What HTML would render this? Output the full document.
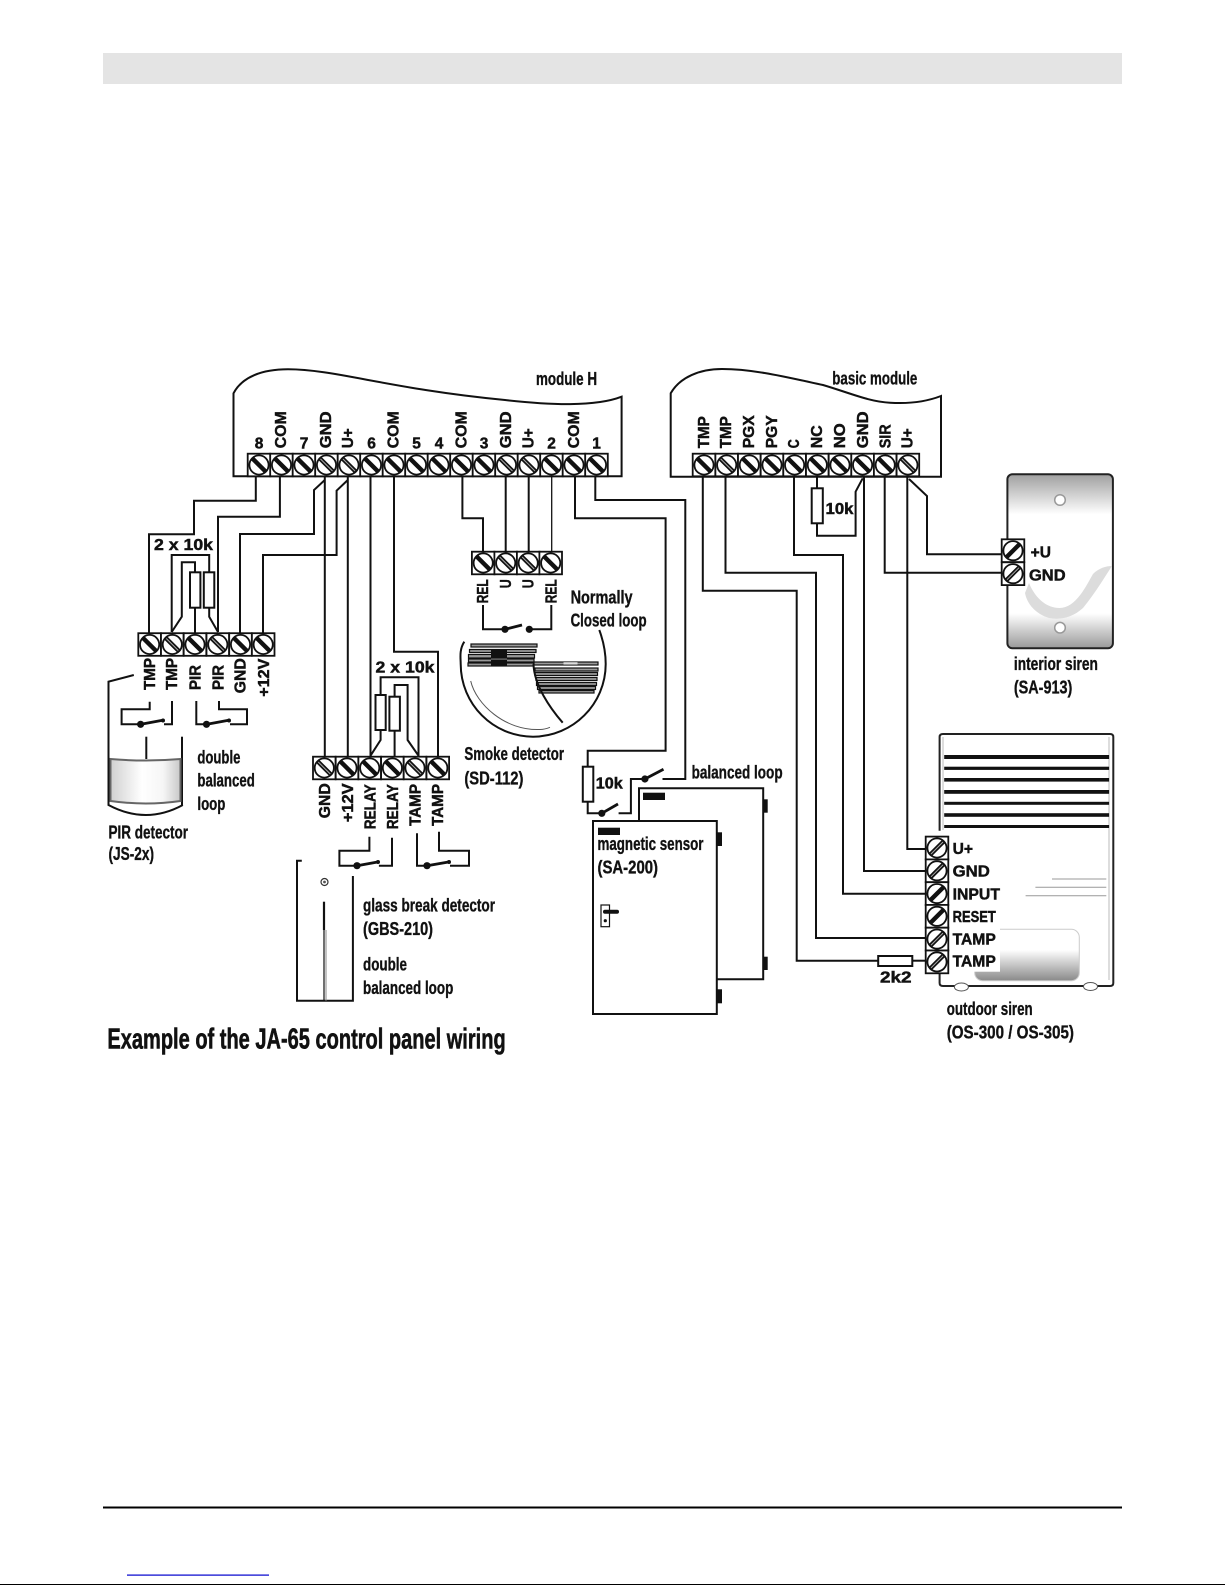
<!DOCTYPE html>
<html><head><meta charset="utf-8"><title>JA-65 wiring</title>
<style>
html,body{margin:0;padding:0;background:#fff}
svg{display:block}
text{fill:#111;font-weight:bold;stroke:#111;stroke-width:.35}
.n{font-family:"Liberation Sans Narrow","Liberation Sans",sans-serif;font-size:18px}
.w{font-family:"Liberation Sans",sans-serif;font-size:15.5px;stroke-width:.45}
.t{font-family:"Liberation Sans Narrow","Liberation Sans",sans-serif;font-size:29px;stroke-width:.6}
.l{fill:none;stroke:#111;stroke-width:2}
.h{fill:none;stroke:#111;stroke-width:1.3}
</style></head><body>
<svg xmlns="http://www.w3.org/2000/svg" width="1225" height="1585" viewBox="0 0 1225 1585">
<defs>
<linearGradient id="gs" x1="0" y1="0" x2="0" y2="1"><stop offset="0" stop-color="#a0a0a0"/><stop offset=".23" stop-color="#fff"/><stop offset=".8" stop-color="#fff"/><stop offset="1" stop-color="#999"/></linearGradient>
<linearGradient id="gw" x1="0" y1="0" x2="1" y2="0"><stop offset="0" stop-color="#d0d0d0"/><stop offset=".45" stop-color="#fff"/><stop offset=".75" stop-color="#f6f6f6"/><stop offset="1" stop-color="#c8c8c8"/></linearGradient>
<linearGradient id="gb" x1="0" y1="0" x2="0" y2="1"><stop offset="0" stop-color="#fff"/><stop offset=".4" stop-color="#fff"/><stop offset="1" stop-color="#8a8a8a"/></linearGradient>
<g id="s"><rect x="-11.3" y="-11.3" width="22.6" height="22.6" fill="#fff" stroke="#111" stroke-width="1.8"/><circle r="9.6" fill="#fff" stroke="#111" stroke-width="1.8"/><line x1="-6.6" y1="-6.6" x2="6.6" y2="6.6" stroke="#111" stroke-width="4.4"/></g>
<g id="d"><use href="#s"/><line x1="-6" y1="-6" x2="6" y2="6" stroke="#aaa" stroke-width="1"/></g>
<g id="f"><rect x="-11.3" y="-11.4" width="22.6" height="22.8" fill="#fff" stroke="#111" stroke-width="1.8"/><circle r="9.6" fill="#fff" stroke="#111" stroke-width="1.8"/><line x1="-6.6" y1="6.6" x2="6.6" y2="-6.6" stroke="#111" stroke-width="4.4"/></g>
<g id="g"><use href="#f"/><line x1="-6" y1="6" x2="6" y2="-6" stroke="#aaa" stroke-width="1"/></g>
</defs>

<rect width="1225" height="1585" fill="#fff"/>
<rect x="103" y="53" width="1019" height="31" fill="#e4e4e4"/>
<rect x="103" y="1506.5" width="1019" height="2" fill="#000"/>
<rect x="127" y="1574.5" width="142" height="1.2" fill="#0000cc"/>
<rect x="0" y="1584" width="1225" height="1" fill="#000"/>

<!-- modules -->
<path class="l" d="M233.5,476.3 V393.3 C242,377 262,369.3 288,369.3 C335,369.3 390,389 505,400 C550,405 595,407 621.6,396.7 V476.3 Z"/>
<path class="l" d="M670.7,476.7 V393.3 C680,377 700,369 722,369 C755,369 790,378 823,385 C850,393 870,402 890,402.7 C910,404 928,401 941,396 V476.7 Z"/>

<!-- wires H -->
<path class="l" d="M255.8,476V500.7H194V534.3H149V634"/>
<path class="l" d="M279.9,476V516.7H218V632"/>
<path class="l" d="M324.8,480L314,490V534H240V634"/>
<path class="l" d="M347.8,480L336.6,490.7V555H263V634"/>
<path class="l" d="M324.8,476V757"/>
<path class="l" d="M347.8,476V757"/>
<path class="l" d="M370.5,476V757"/>
<path class="l" d="M394,476V651.7H438V757"/>
<path class="l" d="M462.4,476V518.3H483V552"/>
<path class="l" d="M505.7,476V552"/>
<path class="l" d="M528.7,476V552"/>
<path class="h" d="M551.7,476V552"/>
<path class="l" d="M575,476V518.3H665.6V750.7H587.7V766.7"/>
<path class="l" d="M595.3,476V500H685.3V779H662.5"/>
<path class="l" d="M587.7,801.7V813.3H601"/>
<path class="l" d="M618.6,813.3H630.9V779H644"/>

<!-- wires basic -->
<path class="l" d="M702.8,476V590.7H796.7V960.7H878.2"/>
<path class="l" d="M912.3,960.7H926"/>
<path class="l" d="M725.5,476V572.7H816V938H926"/>
<path class="l" d="M794,476V555H843V893.7H926"/>
<path class="l" d="M864,476V871H926"/>
<path class="l" d="M817,476V488.3"/>
<path class="l" d="M817,523.3V535.7H855.6V491.7L862.7,478.3"/>
<path class="l" d="M884.7,476V572.7H1002"/>
<path class="l" d="M907.3,476V849H926"/>
<path class="l" d="M909,479L927,496V554.3H1002"/>

<!-- resistors -->
<rect class="l" x="811.7" y="488.3" width="11.1" height="35" style="fill:#fff"/>
<rect class="l" x="582.8" y="766.7" width="10.5" height="35" style="fill:#fff"/>
<rect class="l" x="878.2" y="956" width="34.1" height="10" style="fill:#fff"/>

<!-- PIR terminal loop -->
<path class="l" d="M171.7,632V555H209.2V572.3"/>
<path class="l" d="M209.2,607.7V616.7L218,632"/>
<path class="l" d="M171.7,632L181.8,616.7V562.3H195V572.3"/>
<path class="l" d="M195,607.7V634"/>
<rect class="l" x="190" y="572.3" width="10.4" height="35.4" style="fill:#fff"/>
<rect class="l" x="203.8" y="572.3" width="10.5" height="35.4" style="fill:#fff"/>

<!-- lower terminal loop -->
<path class="l" d="M380.6,696V677.3H418.5V757"/>
<path class="l" d="M394.6,697V685H407.6V740L418.5,755.7"/>
<path class="l" d="M380.6,730V740L370.5,755.7"/>
<path class="l" d="M394.6,730.7V757"/>
<rect class="l" x="375.5" y="695" width="10.2" height="35" style="fill:#fff"/>
<rect class="l" x="389.4" y="696.7" width="10.5" height="34" style="fill:#fff"/>

<!-- switches -->
<path class="l" d="M483,605V629.3H505M529.3,629.3H551.3V605"/>
<path d="M505,629.3L522,625" stroke="#111" stroke-width="2.8"/><circle cx="505" cy="629.3" r="3.6" fill="#111"/><circle cx="529.3" cy="629.3" r="3.6" fill="#111"/>
<path class="l" d="M149.7,701.7V709.3H121.6V724.3H141M164,724.3H172V701"/>
<path d="M141,724.3L164,720" stroke="#111" stroke-width="2.8"/><circle cx="140.6" cy="724.3" r="3.6" fill="#111"/><circle cx="163" cy="720.5" r="2" fill="#111"/>
<path class="l" d="M196.3,701V724.3H207M230,724.3H247V709.3H219V701"/>
<path d="M207,724.3L230,720" stroke="#111" stroke-width="2.8"/><circle cx="206.5" cy="724.3" r="3.6" fill="#111"/><circle cx="229" cy="720.5" r="2" fill="#111"/>
<path class="l" d="M369.4,836.7V850.7H339.4V865.7H357M378.9,865.7H392V837.7"/>
<path d="M357,865.7L379,861.7" stroke="#111" stroke-width="2.8"/><circle cx="357" cy="865.7" r="3.6" fill="#111"/><circle cx="378" cy="862" r="2" fill="#111"/>
<path class="l" d="M417,833.3V865.7H427M450,865.7H469V850.7H439V831.7"/>
<path d="M427,865.7L450,861.7" stroke="#111" stroke-width="2.8"/><circle cx="427" cy="865.7" r="3.6" fill="#111"/><circle cx="449" cy="862" r="2" fill="#111"/>
<path d="M601.8,813.3L618,804" stroke="#111" stroke-width="2.8"/><circle cx="601.8" cy="813.3" r="3.6" fill="#111"/>
<path d="M644.9,779L663.5,769.3" stroke="#111" stroke-width="2.8"/><circle cx="644.9" cy="779" r="3.6" fill="#111"/>

<!-- terminals H -->
<use href="#s" x="259" y="465"/><use href="#s" x="281.5" y="465"/><use href="#s" x="304" y="465"/><use href="#d" x="326.5" y="465"/><use href="#d" x="349" y="465"/><use href="#s" x="371.5" y="465"/><use href="#s" x="394" y="465"/><use href="#s" x="416.5" y="465"/><use href="#s" x="439" y="465"/><use href="#s" x="461.5" y="465"/><use href="#s" x="484" y="465"/><use href="#d" x="506.5" y="465"/><use href="#d" x="529" y="465"/><use href="#s" x="551.5" y="465"/><use href="#s" x="574" y="465"/><use href="#s" x="596.5" y="465"/>
<!-- terminals basic -->
<use href="#s" x="704" y="465"/><use href="#d" x="726.7" y="465"/><use href="#s" x="749.3" y="465"/><use href="#s" x="772" y="465"/><use href="#s" x="794.6" y="465"/><use href="#s" x="817.3" y="465"/><use href="#s" x="840" y="465"/><use href="#s" x="862.6" y="465"/><use href="#s" x="885.2" y="465"/><use href="#d" x="907.9" y="465"/>
<!-- smoke terminal -->
<use href="#s" x="483.2" y="563"/><use href="#d" x="505.7" y="563"/><use href="#d" x="528.2" y="563"/><use href="#s" x="550.7" y="563"/>
<!-- PIR terminal -->
<use href="#s" x="149.6" y="644.5"/><use href="#d" x="172.3" y="644.5"/><use href="#s" x="195" y="644.5"/><use href="#d" x="217.8" y="644.5"/><use href="#s" x="240.5" y="644.5"/><use href="#s" x="263.2" y="644.5"/>
<!-- lower terminal -->
<use href="#d" x="324.3" y="768"/><use href="#s" x="347" y="768"/><use href="#s" x="369.7" y="768"/><use href="#s" x="392.4" y="768"/><use href="#d" x="415" y="768"/><use href="#s" x="437.8" y="768"/>

<!-- H labels -->
<text class="w" x="259" y="448.5" text-anchor="middle">8</text>
<text class="w" x="304" y="448.5" text-anchor="middle">7</text>
<text class="w" x="371.5" y="448.5" text-anchor="middle">6</text>
<text class="w" x="416.5" y="448.5" text-anchor="middle">5</text>
<text class="w" x="439" y="448.5" text-anchor="middle">4</text>
<text class="w" x="484" y="448.5" text-anchor="middle">3</text>
<text class="w" x="551.5" y="448.5" text-anchor="middle">2</text>
<text class="w" x="596.5" y="448.5" text-anchor="middle">1</text>
<text class="w" transform="translate(286,448.3) rotate(-90)" textLength="37" lengthAdjust="spacingAndGlyphs">COM</text>
<text class="w" transform="translate(331,448.3) rotate(-90)" textLength="37" lengthAdjust="spacingAndGlyphs">GND</text>
<text class="w" transform="translate(353,448.3) rotate(-90)" textLength="20" lengthAdjust="spacingAndGlyphs">U+</text>
<text class="w" transform="translate(398.5,448.3) rotate(-90)" textLength="37" lengthAdjust="spacingAndGlyphs">COM</text>
<text class="w" transform="translate(466.5,448.3) rotate(-90)" textLength="37" lengthAdjust="spacingAndGlyphs">COM</text>
<text class="w" transform="translate(511,448.3) rotate(-90)" textLength="37" lengthAdjust="spacingAndGlyphs">GND</text>
<text class="w" transform="translate(533.5,448.3) rotate(-90)" textLength="20" lengthAdjust="spacingAndGlyphs">U+</text>
<text class="w" transform="translate(579,448.3) rotate(-90)" textLength="37" lengthAdjust="spacingAndGlyphs">COM</text>
<!-- basic labels -->
<text class="w" transform="translate(709,448.3) rotate(-90)" textLength="32" lengthAdjust="spacingAndGlyphs">TMP</text>
<text class="w" transform="translate(731,448.3) rotate(-90)" textLength="32" lengthAdjust="spacingAndGlyphs">TMP</text>
<text class="w" transform="translate(754,448.3) rotate(-90)" textLength="33" lengthAdjust="spacingAndGlyphs">PGX</text>
<text class="w" transform="translate(777,448.3) rotate(-90)" textLength="33" lengthAdjust="spacingAndGlyphs">PGY</text>
<text class="w" transform="translate(799,448.3) rotate(-90)" textLength="9" lengthAdjust="spacingAndGlyphs">C</text>
<text class="w" transform="translate(822,448.3) rotate(-90)" textLength="23" lengthAdjust="spacingAndGlyphs">NC</text>
<text class="w" transform="translate(845,448.3) rotate(-90)" textLength="25" lengthAdjust="spacingAndGlyphs">NO</text>
<text class="w" transform="translate(868,448.3) rotate(-90)" textLength="37" lengthAdjust="spacingAndGlyphs">GND</text>
<text class="w" transform="translate(890.5,448.3) rotate(-90)" textLength="24" lengthAdjust="spacingAndGlyphs">SIR</text>
<text class="w" transform="translate(912.5,448.3) rotate(-90)" textLength="20" lengthAdjust="spacingAndGlyphs">U+</text>
<!-- smoke labels -->
<text class="w" transform="translate(488,603.3) rotate(-90)" textLength="24" lengthAdjust="spacingAndGlyphs">REL</text>
<text class="w" transform="translate(511,588.3) rotate(-90)" textLength="9" lengthAdjust="spacingAndGlyphs">U</text>
<text class="w" transform="translate(533.5,588.3) rotate(-90)" textLength="9" lengthAdjust="spacingAndGlyphs">U</text>
<text class="w" transform="translate(556.5,603.3) rotate(-90)" textLength="24" lengthAdjust="spacingAndGlyphs">REL</text>
<!-- PIR labels -->
<text class="w" transform="translate(155,690) rotate(-90)" textLength="32" lengthAdjust="spacingAndGlyphs">TMP</text>
<text class="w" transform="translate(177,690) rotate(-90)" textLength="32" lengthAdjust="spacingAndGlyphs">TMP</text>
<text class="w" transform="translate(200.5,690) rotate(-90)" textLength="25" lengthAdjust="spacingAndGlyphs">PIR</text>
<text class="w" transform="translate(223.5,690) rotate(-90)" textLength="25" lengthAdjust="spacingAndGlyphs">PIR</text>
<text class="w" transform="translate(245.5,693.3) rotate(-90)" textLength="35" lengthAdjust="spacingAndGlyphs">GND</text>
<text class="w" transform="translate(269,696.7) rotate(-90)" textLength="38" lengthAdjust="spacingAndGlyphs">+12V</text>
<!-- lower labels -->
<text class="w" transform="translate(330,818.3) rotate(-90)" textLength="35" lengthAdjust="spacingAndGlyphs">GND</text>
<text class="w" transform="translate(353,822.3) rotate(-90)" textLength="39" lengthAdjust="spacingAndGlyphs">+12V</text>
<text class="w" transform="translate(375.5,829.3) rotate(-90)" textLength="45" lengthAdjust="spacingAndGlyphs">RELAY</text>
<text class="w" transform="translate(398,829.3) rotate(-90)" textLength="45" lengthAdjust="spacingAndGlyphs">RELAY</text>
<text class="w" transform="translate(420.5,826) rotate(-90)" textLength="42" lengthAdjust="spacingAndGlyphs">TAMP</text>
<text class="w" transform="translate(443,826) rotate(-90)" textLength="42" lengthAdjust="spacingAndGlyphs">TAMP</text>
<text class="w" x="154" y="550" textLength="59" lengthAdjust="spacingAndGlyphs">2 x 10k</text>
<text class="w" x="375.5" y="672.7" textLength="59" lengthAdjust="spacingAndGlyphs">2 x 10k</text>
<text class="w" x="825.5" y="514" textLength="28" lengthAdjust="spacingAndGlyphs">10k</text>
<text class="w" x="595.8" y="788.3" textLength="27" lengthAdjust="spacingAndGlyphs">10k</text>
<text class="w" x="880" y="982.7" textLength="31.6" lengthAdjust="spacingAndGlyphs">2k2</text>

<!-- condensed labels -->
<text class="n" x="536" y="385" textLength="61" lengthAdjust="spacingAndGlyphs">module H</text>
<text class="n" x="832.3" y="384.3" textLength="85" lengthAdjust="spacingAndGlyphs">basic module</text>
<text class="n" x="570.6" y="603.3" textLength="62" lengthAdjust="spacingAndGlyphs">Normally</text>
<text class="n" x="570.6" y="626.7" textLength="76" lengthAdjust="spacingAndGlyphs">Closed loop</text>
<text class="n" x="197.4" y="763.3" textLength="43" lengthAdjust="spacingAndGlyphs">double</text>
<text class="n" x="197.4" y="786.7" textLength="57.4" lengthAdjust="spacingAndGlyphs">balanced</text>
<text class="n" x="197.4" y="810" textLength="28" lengthAdjust="spacingAndGlyphs">loop</text>
<text class="n" x="108.5" y="838.3" textLength="79.5" lengthAdjust="spacingAndGlyphs">PIR detector</text>
<text class="n" x="108.5" y="860" textLength="45.5" lengthAdjust="spacingAndGlyphs">(JS-2x)</text>
<text class="n" x="363" y="911.7" textLength="132" lengthAdjust="spacingAndGlyphs">glass break detector</text>
<text class="n" x="363" y="935" textLength="70" lengthAdjust="spacingAndGlyphs">(GBS-210)</text>
<text class="n" x="363" y="970.7" textLength="44" lengthAdjust="spacingAndGlyphs">double</text>
<text class="n" x="363" y="994" textLength="90.3" lengthAdjust="spacingAndGlyphs">balanced loop</text>
<text class="n" x="464.4" y="760" textLength="99.6" lengthAdjust="spacingAndGlyphs">Smoke detector</text>
<text class="n" x="464.4" y="784.3" textLength="59" lengthAdjust="spacingAndGlyphs">(SD-112)</text>
<text class="n" x="691.6" y="778.3" textLength="91" lengthAdjust="spacingAndGlyphs">balanced loop</text>
<text class="n" x="1013.9" y="670" textLength="84" lengthAdjust="spacingAndGlyphs">interior siren</text>
<text class="n" x="1013.9" y="693.3" textLength="58.4" lengthAdjust="spacingAndGlyphs">(SA-913)</text>
<text class="n" x="946.7" y="1015" textLength="86" lengthAdjust="spacingAndGlyphs">outdoor siren</text>
<text class="n" x="946.7" y="1038.3" textLength="127.3" lengthAdjust="spacingAndGlyphs">(OS-300 / OS-305)</text>
<text class="t" x="107.4" y="1048.3" textLength="398.3" lengthAdjust="spacingAndGlyphs">Example of the JA-65 control panel wiring</text>

<!-- PIR detector -->
<path class="l" d="M133.8,675L108.5,681.7V805Q146,825 182.8,805"/>
<path class="l" d="M182,805V736.7"/>
<path class="l" d="M146.3,736.7V759"/>
<path d="M110.5,759Q146,762 180.5,759V801Q146,806 110.5,801Z" fill="url(#gw)" stroke="#666" stroke-width="2"/>

<!-- GBS detector -->
<path class="l" d="M301.8,860.7H297V1000.7H352.9V876"/>
<path d="M324,901.7V930" stroke="#111" stroke-width="2.2" fill="none"/>
<path d="M324,930V1000.7" stroke="#111" stroke-width="1.2" fill="none"/>
<path d="M326,930V1000.7" stroke="#888" stroke-width="1" fill="none"/>
<circle cx="324.5" cy="882" r="3.5" fill="none" stroke="#333" stroke-width="1.2"/><circle cx="324.5" cy="882" r="1.4" fill="#555"/>

<!-- Smoke detector -->
<path class="l" d="M464.3,641.7C459,650 460.7,658 460.7,664C460.7,704 493,736.7 533,736.7C573,736.7 605.7,704 605.7,664C605.7,650 603,640 599.3,630"/>
<g stroke="#111" stroke-width="1.2" fill="#999">
<rect x="471" y="644" width="66" height="3"/><rect x="469.5" y="649.5" width="66.5" height="3"/><rect x="468.5" y="654.5" width="66" height="3.5"/><rect x="468.5" y="659" width="65.5" height="3"/><rect x="468" y="663" width="65.5" height="3"/>
<rect x="534" y="662" width="64" height="3"/>
<rect x="535" y="668" width="63" height="3"/><rect x="535" y="672.5" width="62.5" height="3"/><rect x="536" y="677.5" width="61" height="3"/><rect x="536.5" y="682.5" width="60" height="3"/><rect x="537.5" y="686.5" width="58" height="3"/><rect x="539" y="690.5" width="55" height="2.5"/>
</g>
<rect x="491" y="649" width="16" height="17" fill="#111"/>
<rect x="491" y="658.5" width="16" height="1.2" fill="#777"/>
<rect x="563.5" y="662.2" width="14" height="2.4" fill="#ddd"/>
<path d="M533.5,664C534,685 550,708 562.7,722.7" fill="none" stroke="#111" stroke-width="2"/>
<path d="M470.7,681C476,704 505,731 540,729.5C543,729.5 547,728.5 550,727.3" fill="none" stroke="#555" stroke-width="1"/>

<!-- magnetic sensor -->
<path class="l" d="M639,821V788.3H763.2V979.3H717.5"/>
<rect x="763" y="799.3" width="4.7" height="13.4" fill="#111"/><rect x="763" y="956.7" width="4.7" height="13.3" fill="#111"/>
<rect x="643" y="792.7" width="22" height="7.3" fill="#111"/>
<rect class="l" x="593" y="821" width="123.8" height="193" style="fill:#fff"/>
<rect x="716.8" y="832.3" width="5.2" height="13.7" fill="#111"/><rect x="716.8" y="989.3" width="5.2" height="14" fill="#111"/>
<rect x="598" y="827.7" width="22" height="7.3" fill="#111"/>
<text class="n" x="597.5" y="850" textLength="106" lengthAdjust="spacingAndGlyphs">magnetic sensor</text>
<text class="n" x="597.5" y="873.3" textLength="60.5" lengthAdjust="spacingAndGlyphs">(SA-200)</text>
<rect x="601" y="905" width="8.5" height="21.7" fill="#fff" stroke="#111" stroke-width="1.2"/>
<rect x="603" y="909.8" width="16" height="4" rx="2" fill="#111"/><circle cx="605.3" cy="920.7" r="1.6" fill="#111"/>

<!-- interior siren -->
<rect x="1007.4" y="474.3" width="105.5" height="174" rx="5" fill="url(#gs)" stroke="#222" stroke-width="2"/>
<circle cx="1060" cy="500" r="5.3" fill="#fff" stroke="#999" stroke-width="1.5"/>
<circle cx="1060" cy="627.7" r="5.3" fill="#fff" stroke="#999" stroke-width="1.5"/>
<path d="M1029,583C1036,600 1048,608 1059.5,608C1076,608 1086,586 1093,574C1099,568 1106,566 1112,566C1104,578 1096,592 1083,608C1072,618 1060,620 1049,618C1036,614 1027,604 1025,593Z" fill="#dcdcdc"/>
<use href="#f" x="1013" y="550.7"/><use href="#g" x="1013" y="573.7"/>
<text class="w" x="1030.7" y="557.7" textLength="20.3" lengthAdjust="spacingAndGlyphs">+U</text>
<text class="w" x="1029" y="580.7" textLength="36.6" lengthAdjust="spacingAndGlyphs">GND</text>

<!-- outdoor siren -->
<path d="M939.6,830.7V737Q939.6,734 943,734H1110Q1113.3,734 1113.3,737V983Q1113.3,986 1110,986H943Q939.6,986 939.6,983V973" fill="#fff" stroke="#222" stroke-width="2"/>
<path d="M943,737V830M1109,737V980" fill="none" stroke="#bbb" stroke-width="1"/>
<ellipse cx="961.4" cy="987" rx="7" ry="4" fill="#fff" stroke="#555" stroke-width="1"/>
<ellipse cx="1090.5" cy="986.5" rx="7" ry="4" fill="#fff" stroke="#555" stroke-width="1"/>
<g fill="#111">
<rect x="944.2" y="755" width="164.9" height="4"/><rect x="944.2" y="766.7" width="164.9" height="3.2"/><rect x="944.2" y="778" width="164.9" height="3.6"/><rect x="944.2" y="790" width="164.9" height="3.8"/><rect x="944.2" y="801.8" width="164.9" height="3"/><rect x="944.2" y="813.2" width="164.9" height="3.6"/><rect x="944.2" y="825" width="164.9" height="3"/>
</g>
<path d="M1052,879H1106.3M1035.4,887.3H1106.3M1025.6,895.7H1106.3" stroke="#999" stroke-width="1" fill="none"/>
<rect x="974.7" y="929.3" width="104.6" height="51.4" rx="8" fill="url(#gb)" stroke="#ccc" stroke-width="1"/>
<rect x="949" y="925" width="51" height="46.7" fill="#fff"/>
<use href="#g" x="937" y="848"/><use href="#g" x="937" y="870.8"/><use href="#f" x="937" y="893.6"/><use href="#f" x="937" y="916.3"/><use href="#g" x="937" y="939.1"/><use href="#g" x="937" y="961.9"/>
<text class="w" x="952.6" y="854" textLength="20.4" lengthAdjust="spacingAndGlyphs">U+</text>
<text class="w" x="952.6" y="876.7" textLength="37.2" lengthAdjust="spacingAndGlyphs">GND</text>
<text class="w" x="952.6" y="899.3" textLength="47.4" lengthAdjust="spacingAndGlyphs">INPUT</text>
<text class="w" x="952.6" y="922" textLength="43.2" lengthAdjust="spacingAndGlyphs">RESET</text>
<text class="w" x="952.6" y="944.3" textLength="43.2" lengthAdjust="spacingAndGlyphs">TAMP</text>
<text class="w" x="952.6" y="966.7" textLength="43.2" lengthAdjust="spacingAndGlyphs">TAMP</text>
</svg>
</body></html>
